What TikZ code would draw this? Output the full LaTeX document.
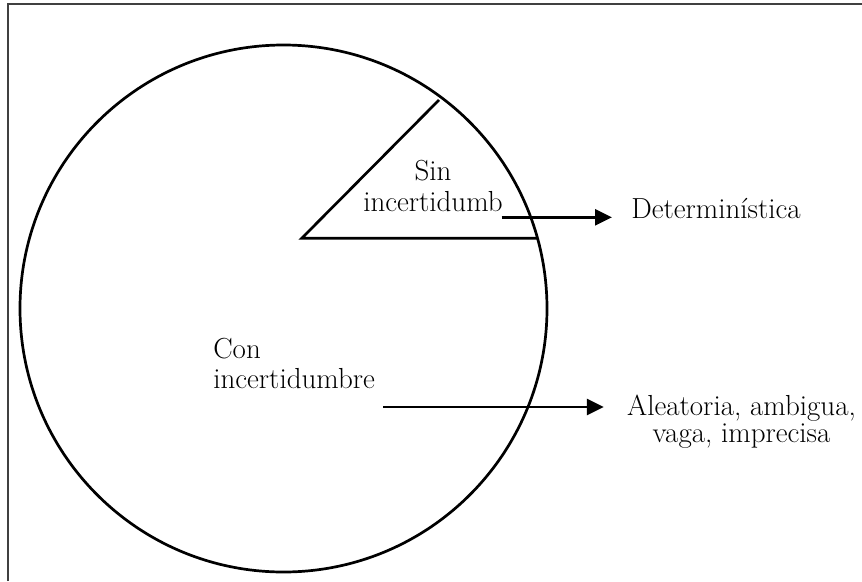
\documentclass[tikz,border=0pt]{standalone}
\usetikzlibrary{arrows.meta}
\begin{document}
\begin{tikzpicture}[x=1pt,y=-1pt,line width=2.7pt,
  lbl/.style={font=\fontsize{29}{31}\selectfont, inner sep=0pt},
  arr/.style={-{Triangle[length=17pt,width=16pt]}, line width=2.8pt}]
\useasboundingbox (0,0) rectangle (862,581);
\draw[line width=2.2pt, black!75] (8,581) -- (8,4) -- (862,4);
\coordinate (o) at (283.5,308.5);
\draw (o) circle[radius=263.5];
\coordinate (c) at (301.7,238.3);
\coordinate (w1) at (439,100);
\coordinate (w2) at (537,238.3);
\draw (w1) -- (c) -- (w2);
\node[lbl, align=center, anchor=base] (sin) at (433,211.7) {Sin\\incertidumb};
\node[lbl, anchor=base west] (det) at (630,218) {Determinística};
\coordinate (a1) at (501.7,217.3);
\draw[arr, shorten >=18pt] (a1) -- (a1 -| det.west);
\node[lbl, font=\fontsize{29}{30}\selectfont, align=left, anchor=base west] (con) at (212,388.3) {Con\\incertidumbre};
\node[lbl, font=\fontsize{29}{27.7}\selectfont, align=center, anchor=base] (ale) at (741.5,442.7) {Aleatoria, ambigua,\\vaga, imprecisa};
\coordinate (a2) at (383,407);
\draw[arr, shorten >=22pt] (a2) -- (a2 -| ale.west);
\end{tikzpicture}
\end{document}
